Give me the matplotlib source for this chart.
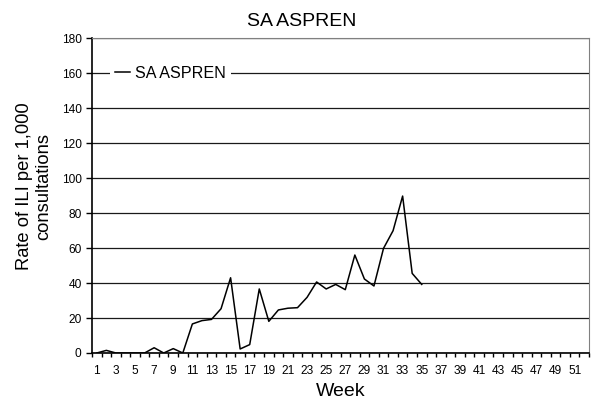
import matplotlib.pyplot as plt
import matplotlib.transforms as mtransforms
import numpy as np

plt.rcParams['font.family'] = ['Liberation Sans', 'DejaVu Sans']

weeks = np.arange(1, 53)
# weekly ILI rate, weeks 1-35 reported
rate = [0, 1.5, 0, 0, 0, 0, 3.0, 0, 2.5, 0,
        16.6, 18.5, 19.2, 25.3, 43.0, 2.3, 4.8, 36.6, 18.1, 24.6,
        25.6, 25.9, 31.8, 40.6, 36.6, 39.2, 36.2, 56.0, 42.3, 38.3,
        59.8, 69.9, 89.7, 45.5, 39.2]
series_name = 'SA ASPREN'

fig = plt.figure(figsize=(5.91, 4.05), dpi=100)
ax = fig.add_axes([0.1557, 0.1284, 0.8409, 0.7776])

ax.plot(weeks[:len(rate)], rate, color='black', lw=1.1, label=series_name)

ax.set_xlim(0.5, 52.5)
ax.set_ylim(0, 180)
ax.set_yticks(np.arange(0, 181, 20))
ax.yaxis.grid(True, color='#1a1a1a', lw=0.9)
ax.set_axisbelow(True)

# category axis: ticks between weeks, labels on odd weeks
ax.set_xticks(np.arange(0.5, 53, 1))
ax.set_xticklabels([])
ax.set_xticks(weeks[::2], minor=True)
ax.set_xticklabels([str(w) for w in weeks[::2]], minor=True, fontsize=8.6)
ax.tick_params(axis='x', which='minor', length=0, pad=9)
ax.tick_params(axis='x', which='major', length=3, width=1, direction='out')
ax.tick_params(axis='y', length=4, width=1, labelsize=8.6, pad=3.5,
               direction='out')

for s in ['top', 'right']:
    ax.spines[s].set_color('#808080')
for s in ['left', 'bottom']:
    ax.spines[s].set_linewidth(1.2)

ax.set_title(series_name, fontsize=14, pad=8.6, x=0.4225)
ax.set_xlabel('Week', fontsize=14, labelpad=4)
ax.set_ylabel('Rate of ILI per 1,000\nconsultations', fontsize=13.2)
ax.yaxis.set_label_coords(-0.08, 0.53)

trans = mtransforms.blended_transform_factory(ax.transAxes, ax.transData)
leg = ax.legend(loc='center left', bbox_to_anchor=(0.0362, 160),
                bbox_transform=trans, frameon=True, fontsize=11.6,
                handlelength=0.93, handletextpad=0.31,
                borderpad=0.3, borderaxespad=0)
leg.get_frame().set_edgecolor('none')
leg.get_frame().set_facecolor('white')
leg.get_frame().set_alpha(1)
leg.get_frame().set_boxstyle('square', pad=0)

fig.savefig('out.png', dpi=100)
